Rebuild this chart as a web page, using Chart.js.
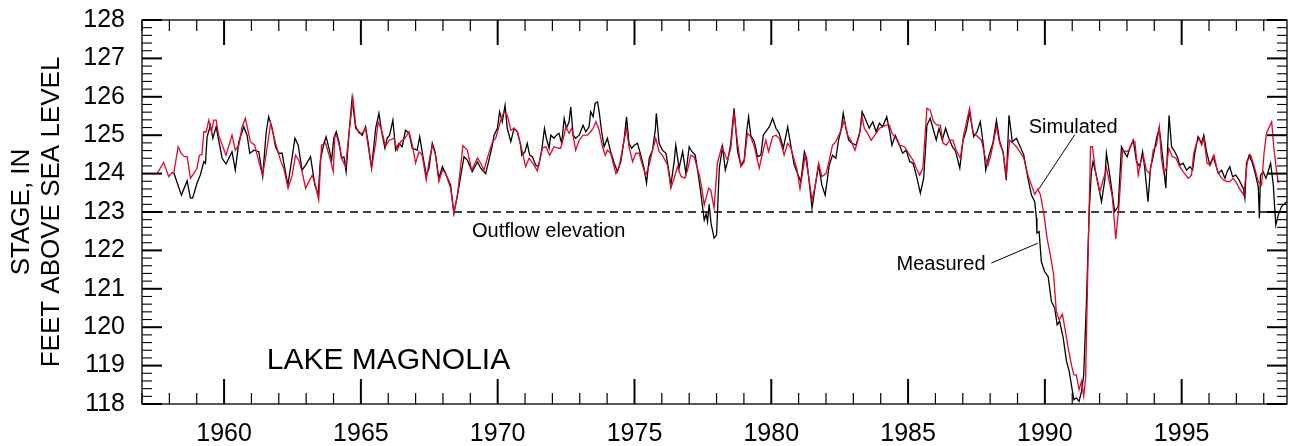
<!DOCTYPE html>
<html><head><meta charset="utf-8">
<script src="https://cdn.jsdelivr.net/npm/chart.js@4.4.0/dist/chart.umd.min.js"></script>
<style>html,body{margin:0;padding:0;background:#fff}#wrap{width:1290px;height:446px;position:relative}</style>
</head><body><div id="wrap"><canvas id="c"></canvas></div>
<script>
const FONT = "'Liberation Sans', Arial, Helvetica, sans-serif";

const measuredYears = [
1958.16,1958.44,1958.65,1958.77,1958.85,1959.01,1959.13,1959.26,1959.32,1959.38,1959.50,1959.59,1959.71,1959.80,1959.93,
1960.07,1960.29,1960.41,1960.54,1960.72,1960.84,1960.94,1961.09,1961.27,1961.41,1961.54,1961.63,1961.76,1961.88,1962.00,
1962.12,1962.33,1962.49,1962.59,1962.71,1962.85,1962.98,1963.16,1963.32,1963.44,1963.52,1963.65,1963.73,1963.85,
1963.93,1964.01,1964.10,1964.20,1964.29,1964.38,1964.46,1964.56,1964.68,1964.81,1964.93,1965.05,1965.17,1965.27,1965.39,
1965.54,1965.66,1965.76,1965.88,1965.96,1966.05,1966.17,1966.27,1966.39,1966.51,1966.63,1966.76,1966.88,1967.06,1967.15,
1967.27,1967.39,1967.49,1967.61,1967.71,1967.85,1967.98,1968.12,1968.28,1968.40,1968.53,1968.77,1968.89,1969.07,1969.26,
1969.38,1969.56,1969.68,1969.78,1969.87,1969.99,1970.07,1970.17,1970.27,1970.35,1970.48,1970.60,1970.72,1970.84,
1970.88,1971.00,1971.08,1971.17,1971.27,1971.39,1971.49,1971.61,1971.71,1971.78,1971.88,1971.94,1972.06,1972.15,1972.24,
1972.34,1972.43,1972.51,1972.61,1972.67,1972.76,1972.85,1972.98,1973.12,1973.22,1973.34,1973.40,1973.49,1973.56,1973.65,
1973.71,1973.80,1973.89,1974.01,1974.13,1974.26,1974.38,1974.50,1974.62,1974.71,1974.80,1974.90,1974.99,1975.11,1975.23,
1975.35,1975.44,1975.54,1975.66,1975.76,1975.80,1975.90,1976.02,1976.15,1976.24,1976.33,1976.45,1976.51,1976.63,1976.76,
1976.88,1977.00,1977.10,1977.22,1977.37,1977.55,1977.62,1977.67,1977.73,1977.80,1977.91,1978.00,1978.10,
1978.22,1978.32,1978.40,1978.52,1978.64,1978.77,1978.89,1979.01,1979.10,1979.17,1979.25,1979.38,1979.50,1979.62,1979.71,
1979.80,1979.93,1980.05,1980.17,1980.29,1980.44,1980.60,1980.72,1980.84,1980.96,1981.08,1981.21,1981.29,1981.39,1981.49,
1981.61,1981.73,1981.85,1981.97,1982.12,1982.24,1982.36,1982.46,1982.55,1982.63,1982.73,1982.83,1982.95,1983.10,1983.24,
1983.32,1983.46,1983.58,1983.71,1983.83,1983.95,1984.07,1984.22,1984.34,1984.41,1984.53,1984.66,1984.80,
1984.93,1985.06,1985.18,1985.30,1985.45,1985.57,1985.69,1985.81,1985.91,1986.03,1986.13,1986.25,1986.37,1986.49,1986.62,
1986.74,1986.89,1987.01,1987.13,1987.25,1987.40,1987.52,1987.64,1987.76,1987.84,1987.96,1988.10,1988.23,1988.35,1988.47,
1988.59,1988.69,1988.81,1988.96,1989.10,1989.23,1989.38,1989.51,1989.63,1989.69,1989.71,1989.79,1989.87,1989.99,1990.12,
1990.24,1990.36,1990.45,1990.54,1990.67,1990.79,1990.89,1990.97,1991.06,1991.15,1991.25,1991.34,1991.42,1991.52,1991.62,
1991.70,1991.76,1991.88,1992.07,1992.19,1992.25,1992.37,1992.47,1992.55,1992.68,1992.80,1992.92,1993.01,1993.10,1993.23,
1993.35,1993.47,1993.57,1993.65,1993.77,1993.86,1993.96,1994.08,1994.18,1994.30,1994.42,1994.54,1994.63,1994.75,1994.84,
1994.93,1995.05,1995.18,1995.30,1995.40,1995.48,1995.60,1995.73,1995.81,1995.91,1996.03,1996.15,1996.25,1996.34,1996.46,
1996.58,1996.66,1996.76,1996.86,1996.98,1997.10,1997.25,1997.31,1997.37,1997.47,1997.59,1997.69,1997.80,1997.84,1997.88,
1997.98,1998.08,1998.16,1998.25,1998.35,1998.44,1998.53,1998.65,1998.84
];
const measuredStage = [
124.03,123.44,123.81,123.36,123.36,123.75,123.96,124.31,124.27,124.96,125.26,124.92,125.22,124.87,124.40,
124.25,124.57,124.09,124.83,125.22,125.00,124.53,124.61,124.57,123.92,125.09,125.48,125.18,124.70,124.53,
124.53,123.70,124.44,124.92,124.74,124.09,124.22,124.44,123.70,123.44,124.35,124.79,124.96,124.61,
124.35,124.92,125.09,124.83,124.40,124.44,124.05,125.00,125.96,125.18,125.09,125.00,125.22,124.79,124.14,
125.18,125.57,125.09,124.66,124.92,125.00,125.39,124.61,124.79,124.70,125.13,125.05,124.66,124.61,124.96,
124.44,123.96,124.14,124.79,124.57,123.88,124.18,123.96,123.70,122.97,123.44,124.44,124.35,124.05,124.31,
124.14,124.00,124.35,124.66,125.00,125.18,125.61,125.35,125.78,125.18,124.83,125.18,125.09,124.74,
124.48,124.57,124.79,124.48,124.44,124.22,124.18,124.61,125.18,124.92,124.66,125.00,124.92,125.00,125.05,
124.79,125.44,125.18,125.35,125.74,125.00,124.92,125.00,125.26,125.09,125.22,125.61,125.48,125.83,125.87,
125.61,125.09,124.70,124.92,124.57,124.27,124.05,124.31,124.87,125.48,124.79,124.66,124.74,124.79,124.48,
124.14,123.75,124.40,124.61,125.13,125.57,124.79,124.61,124.53,124.14,123.70,124.31,124.74,124.14,124.57,
124.00,124.70,124.57,124.48,123.79,122.79,122.95,122.75,123.20,122.70,122.32,122.40,124.14,
124.70,124.09,124.31,124.79,125.70,124.57,124.22,124.35,125.09,125.48,125.00,124.83,124.44,124.48,125.00,
125.09,125.22,125.44,125.18,125.05,124.66,125.22,124.70,124.22,124.00,123.79,124.57,124.40,123.75,123.10,
123.70,124.22,123.70,123.44,124.22,124.48,124.40,124.87,125.13,125.57,125.18,124.87,124.79,124.74,125.09,
125.61,125.39,125.18,125.35,125.09,125.31,125.22,125.48,125.05,124.74,125.00,124.79,124.53,
124.61,124.31,124.27,123.96,123.49,123.88,125.26,125.44,125.18,124.87,125.18,124.87,125.18,124.92,124.70,
124.57,124.14,124.87,125.13,125.61,124.96,125.09,125.35,124.70,124.09,124.48,124.79,125.39,124.83,124.57,
123.83,125.52,124.83,124.92,124.70,124.48,123.88,123.44,123.27,122.84,122.45,122.49,121.71,121.45,121.32,
120.67,120.50,120.06,120.15,119.72,119.11,118.85,118.50,118.11,118.16,118.07,118.33,118.76,120.67,123.01,
124.05,124.31,123.96,123.27,123.83,124.53,123.96,123.44,123.01,123.14,124.70,124.53,124.44,124.66,124.87,
124.31,124.18,124.57,124.14,123.27,124.14,124.44,124.92,125.18,124.48,123.62,125.52,124.70,124.57,124.44,
124.22,124.27,124.09,124.18,124.09,124.53,124.96,124.79,125.00,124.57,124.22,124.44,124.22,124.00,124.09,
123.88,124.05,124.18,123.92,123.96,123.83,123.62,123.36,124.27,124.48,124.27,124.00,123.66,122.84,123.96,
124.05,123.88,124.05,124.27,123.70,122.66,122.92,123.14,123.27
];

const simulatedYears = [
1957.55,1957.79,1957.98,1958.10,1958.16,1958.32,1958.43,1958.55,1958.65,1958.77,1958.89,1959.01,1959.10,1959.19,1959.26,
1959.35,1959.44,1959.54,1959.62,1959.71,1959.80,1960.07,1960.29,1960.41,1960.54,1960.66,1960.78,1960.96,1961.12,1961.27,
1961.41,1961.57,1961.70,1961.88,1962.06,1962.18,1962.34,1962.49,1962.61,1962.73,1962.85,1962.98,1963.10,1963.22,1963.34,
1963.46,1963.56,1963.71,1963.89,1963.99,
1964.05,1964.13,1964.26,1964.32,1964.44,1964.56,1964.71,1964.81,1964.93,1965.05,1965.17,1965.27,1965.39,1965.54,1965.63,
1965.76,1965.90,1966.03,1966.21,1966.33,1966.45,1966.61,1966.76,1966.88,1967.00,1967.12,1967.24,1967.39,1967.49,1967.61,
1967.73,1967.85,1967.98,1968.10,1968.28,1968.40,1968.53,1968.73,1968.89,1969.05,1969.17,1969.26,1969.38,1969.50,1969.62,
1969.81,1969.93,1970.11,1970.23,1970.35,1970.48,1970.60,1970.72,1970.84,
1970.90,1971.02,1971.15,1971.33,1971.45,1971.57,1971.63,1971.76,1971.90,1972.06,1972.22,1972.30,1972.43,1972.49,1972.61,
1972.71,1972.85,1972.98,1973.12,1973.28,1973.40,1973.49,1973.59,1973.71,1973.83,1973.93,1974.01,1974.13,1974.32,1974.44,
1974.62,1974.71,1974.80,1974.93,1975.05,1975.17,1975.29,1975.41,1975.54,1975.66,1975.78,1975.90,1976.02,1976.21,1976.33,
1976.45,1976.57,1976.71,1976.84,1976.94,1977.06,1977.18,1977.37,1977.46,1977.55,1977.71,1977.79,
1977.91,1978.03,1978.19,1978.40,1978.52,1978.64,1978.77,1978.89,1979.01,1979.13,1979.25,1979.38,1979.56,1979.68,1979.80,
1979.90,1980.05,1980.17,1980.29,1980.39,1980.47,1980.60,1980.72,1980.84,1980.93,1981.05,1981.15,1981.24,1981.36,1981.49,
1981.61,1981.73,1981.85,1982.00,1982.12,1982.24,1982.36,1982.55,1982.67,1982.79,1982.91,1983.06,1983.22,1983.32,1983.40,
1983.52,1983.65,1983.83,1983.95,1984.07,1984.19,1984.32,1984.41,1984.56,1984.68,
1984.87,1985.06,1985.18,1985.30,1985.42,1985.54,1985.69,1985.81,1985.93,1986.06,1986.18,1986.28,1986.40,1986.52,1986.64,
1986.76,1986.91,1987.03,1987.25,1987.37,1987.49,1987.68,1987.80,1987.92,1988.04,1988.23,1988.35,1988.47,1988.59,1988.71,
1988.84,1988.96,1989.08,1989.23,1989.38,1989.51,1989.63,1989.75,1989.84,1989.96,1990.08,1990.20,1990.32,1990.42,1990.52,
1990.64,1990.73,1990.85,1990.97,1991.06,1991.15,1991.25,1991.34,1991.42,1991.49,1991.58,1991.67,
1991.74,1991.86,1992.01,1992.13,1992.25,1992.37,1992.47,1992.59,1992.71,1992.84,1992.96,1993.08,1993.23,1993.29,1993.41,
1993.49,1993.59,1993.71,1993.84,1993.96,1994.08,1994.18,1994.26,1994.35,1994.44,1994.53,1994.66,1994.79,1994.93,1995.05,
1995.24,1995.36,1995.44,1995.54,1995.64,1995.73,1995.81,1995.93,1996.05,1996.18,1996.30,1996.42,1996.54,1996.66,1996.76,
1996.88,1997.01,1997.10,1997.27,1997.40,1997.52,1997.64,1997.80,1997.92,1998.01,1998.10,1998.29,1998.37,1998.47,1998.53
];
const simulatedStage = [
124.00,124.29,123.92,124.03,124.00,124.70,124.53,124.44,124.44,123.88,124.00,124.14,124.48,124.50,125.09,
125.09,125.39,125.09,125.39,125.39,125.00,124.48,125.00,124.61,124.74,125.22,125.44,124.83,124.74,124.31,
123.96,124.66,125.31,124.79,124.35,124.14,123.62,123.96,124.48,124.35,124.05,123.62,123.79,123.96,123.70,
123.31,124.74,124.79,124.35,124.05,
125.00,124.96,124.57,124.35,124.18,125.00,125.96,125.26,125.05,125.05,125.18,124.70,124.14,124.79,125.35,
125.13,124.70,124.87,124.92,124.61,124.83,124.92,125.09,124.74,124.27,124.57,124.48,123.83,124.31,124.74,
124.48,123.79,124.09,124.00,123.62,122.97,123.44,124.73,124.61,124.09,124.27,124.41,124.27,124.09,124.40,
124.83,124.92,125.39,125.61,125.52,125.13,125.18,125.09,124.74,
124.57,124.18,124.40,124.22,124.07,124.44,124.66,124.70,124.48,124.70,124.66,124.66,125.00,125.22,125.05,
125.18,124.61,124.87,125.00,125.00,125.09,125.18,125.35,125.13,124.70,124.48,124.61,124.53,124.00,124.18,
124.87,125.18,124.70,124.31,124.53,124.53,124.22,123.96,124.22,124.61,124.92,124.57,124.48,124.22,123.62,
123.88,124.18,123.92,123.88,124.09,124.48,124.44,123.96,123.62,123.18,123.62,123.57,
123.10,124.27,124.70,124.35,124.66,125.57,124.79,124.18,124.31,125.05,124.96,124.70,124.14,124.53,124.87,
124.57,124.96,125.00,124.92,124.70,124.48,124.79,124.66,124.35,124.14,123.60,124.05,124.48,123.96,123.31,
123.70,124.27,123.92,124.00,124.35,124.74,124.83,125.13,125.39,125.00,124.87,124.61,125.00,125.48,125.18,
125.05,124.87,125.05,125.18,125.22,125.26,125.26,125.05,124.92,124.74,
124.70,124.48,124.35,124.14,123.96,124.14,125.70,125.65,125.35,125.26,125.26,124.79,124.74,124.87,124.87,
124.61,124.40,125.00,125.70,125.05,125.00,124.87,124.48,124.22,124.53,125.22,124.79,124.57,123.96,124.87,
124.79,124.70,124.57,124.40,123.96,123.70,123.46,123.60,123.44,122.97,122.32,121.88,121.36,120.41,120.19,
120.34,119.98,119.46,119.02,118.76,118.76,118.37,118.59,118.20,118.68,121.88,124.70,
124.70,124.00,123.53,123.83,124.14,123.75,123.36,122.30,123.18,124.61,124.57,124.61,124.87,124.83,123.96,
124.27,124.48,124.09,124.00,124.61,124.74,125.22,124.40,124.00,124.14,124.66,124.44,124.40,124.18,124.05,
123.88,123.96,124.53,124.79,124.92,124.74,124.92,124.27,124.22,124.48,124.09,123.92,123.83,123.79,123.79,
123.88,123.75,123.62,123.44,124.31,124.48,124.22,123.79,123.70,124.53,125.05,125.35,124.66,124.05,123.75
];

const outflowYears = [1957, 1998.85];
const outflowStage = [123, 123];

const xTickLabels = [1960, 1965, 1970, 1975, 1980, 1985, 1990, 1995];
const yTickLabels = [118, 119, 120, 121, 122, 123, 124, 125, 126, 127, 128];
const xRange = [1957, 1998.85];
const yRange = [118, 128];

const annotations = [
  {text: 'Simulated', year: 1989.41, stage: 125.06},
  {text: 'Measured', year: 1984.58, stage: 121.50},
  {text: 'Outflow elevation', year: 1969.06, stage: 122.36}
];
const leaders = [
  {from: [1991.09, 125.01], to: [1989.78, 123.60]},
  {from: [1988.04, 121.67], to: [1989.75, 122.19]}
];
const lakeName = {text: 'LAKE MAGNOLIA', year: 1961.56, stage: 118.92};

function pts(xs, ys) { return xs.map((x, i) => ({x: x, y: ys[i]})); }

const framePlugin = {
  id: 'framePlugin',
  afterDraw(chart) {
    const {ctx, chartArea: a, scales: {x, y}} = chart;
    ctx.save();
    ctx.strokeStyle = '#000';
    const seg = (x1, y1, x2, y2) => { ctx.beginPath(); ctx.moveTo(x1, y1); ctx.lineTo(x2, y2); ctx.stroke(); };
    for (let yr = Math.ceil(x.min); yr <= x.max; yr++) {
      const px = x.getPixelForValue(yr);
      const major = yr % 5 === 0;
      ctx.lineWidth = major ? 2 : 1.2;
      const L = major ? 25 : 11;
      seg(px, a.bottom, px, a.bottom - L);
      seg(px, a.top, px, a.top + L);
    }
    for (let i = 0; i <= 50; i++) {
      const v = yRange[0] + i * 0.2;
      const py = y.getPixelForValue(v);
      const major = i % 5 === 0;
      ctx.lineWidth = major ? 2 : 1.1;
      const L = major ? 20 : 10;
      seg(a.left, py, a.left + L, py);
      seg(a.right, py, a.right - L, py);
    }
    ctx.lineWidth = 1.3;
    ctx.strokeRect(a.left, a.top, a.right - a.left, a.bottom - a.top);

    ctx.lineWidth = 1;
    leaders.forEach(l => seg(x.getPixelForValue(l.from[0]), y.getPixelForValue(l.from[1]),
                             x.getPixelForValue(l.to[0]), y.getPixelForValue(l.to[1])));
    ctx.fillStyle = '#000';
    ctx.textBaseline = 'alphabetic';
    ctx.textAlign = 'left';
    ctx.font = '20px ' + FONT;
    annotations.forEach(t => ctx.fillText(t.text, x.getPixelForValue(t.year), y.getPixelForValue(t.stage)));
    ctx.font = '30px ' + FONT;
    ctx.fillText(lakeName.text, x.getPixelForValue(lakeName.year), y.getPixelForValue(lakeName.stage));
    ctx.restore();
  }
};

new Chart(document.getElementById('c'), {
  type: 'line',
  data: {
    datasets: [
      {label: 'Simulated', data: pts(simulatedYears, simulatedStage), borderColor: '#e2062c', borderWidth: 1.3, order: 1},
      {label: 'Measured', data: pts(measuredYears, measuredStage), borderColor: '#000', borderWidth: 1.3, order: 2},
      {label: 'Outflow elevation', data: pts(outflowYears, outflowStage), borderColor: '#000', borderWidth: 1.5, borderDash: [8, 5], order: 3}
    ]
  },
  options: {
    responsive: true,
    maintainAspectRatio: false,
    animation: false,
    events: [],
    layout: {padding: {top: 20, right: 3, left: 0, bottom: 0}},
    elements: {point: {radius: 0}, line: {tension: 0, fill: false}},
    plugins: {legend: {display: false}, tooltip: {enabled: false}},
    scales: {
      x: {
        type: 'linear', min: xRange[0], max: xRange[1],
        afterBuildTicks: s => { s.ticks = xTickLabels.map(v => ({value: v})); },
        afterFit: s => { s.height = 42; s.paddingLeft = 0; s.paddingRight = 0; },
        grid: {display: false, drawTicks: false},
        border: {display: false},
        ticks: {font: {size: 25, family: FONT}, color: '#000', padding: 15, maxRotation: 0, autoSkip: false, callback: v => String(v)}
      },
      y: {
        type: 'linear', min: yRange[0], max: yRange[1],
        afterBuildTicks: s => { s.ticks = yTickLabels.map(v => ({value: v})); },
        afterFit: s => { s.width = 142; s.paddingTop = 0; s.paddingBottom = 0; },
        grid: {display: false, drawTicks: false},
        border: {display: false},
        ticks: {font: {size: 25, family: FONT}, color: '#000', padding: 17, autoSkip: false, callback: v => String(v)},
        title: {display: true, text: ['STAGE, IN', 'FEET ABOVE SEA LEVEL'], color: '#000',
                font: {size: 26, family: FONT, lineHeight: 1.154}, padding: {top: 7, bottom: 0}}
      }
    }
  },
  plugins: [framePlugin]
});
</script>
</body></html>
